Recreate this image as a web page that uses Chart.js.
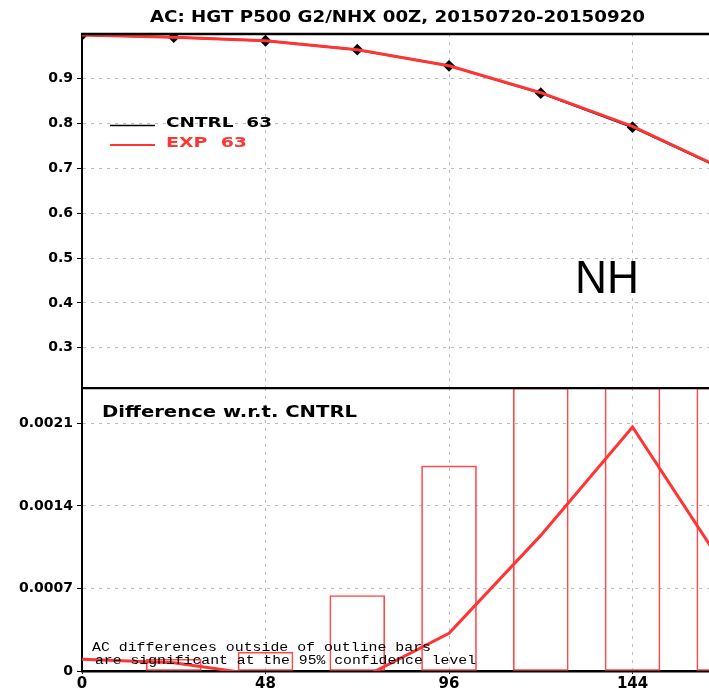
<!DOCTYPE html>
<html>
<head>
<meta charset="utf-8">
<script src="https://cdn.jsdelivr.net/npm/chart.js@4/dist/chart.umd.min.js"></script>
<style>
  body { margin: 0; background: #fff; }
  #wrap { position: relative; width: 709px; height: 691px; overflow: hidden; }
  canvas { position: absolute; left: 0; }
</style>
</head>
<body>
<div id="wrap">
  <canvas id="topChart" width="709" height="389" style="top:0px"></canvas>
  <canvas id="bottomChart" width="709" height="304" style="top:387px"></canvas>
</div>
<script>
// lead times (hours)
const leadHours = [0, 24, 48, 72, 96, 120, 144, 168];

// anomaly correlation
const cntrlAC = [0.998, 0.993, 0.985, 0.965, 0.929, 0.868, 0.792, 0.697];
const expAC = [0.998, 0.993, 0.985, 0.965, 0.929, 0.869, 0.794, 0.698];

// EXP - CNTRL difference and significance bars
const acDiff = [0.0001, 0.00007, -0.00004, -0.00008, 0.00032, 0.00115, 0.00207, 0.00088];
const sigBars = [0, 0.0001, 0.00016, 0.00064, 0.00174, 0.0024, 0.0024, 0.0024];

// tick values
const xTicks = [0, 48, 96, 144];
const topYTicks = [0.3, 0.4, 0.5, 0.6, 0.7, 0.8, 0.9];
const bottomYTicks = [0, 0.0007, 0.0014, 0.0021];

const RED = "#ff3535";
const GRID = "#bdbdbd";
const tickFont = { family: "DejaVu Sans", weight: "bold", size: 14 };

function points(ys) {
  return leadHours.map((h, i) => ({ x: h, y: ys[i] }));
}

//--TEXT HELPER--------------------------------------------------------------------
function fitText(ctx, text, x, y, w, font, color) {
  ctx.save();
  ctx.font = font;
  ctx.fillStyle = color;
  ctx.textAlign = "left";
  ctx.textBaseline = "alphabetic";
  let m = ctx.measureText(text).width;
  ctx.translate(x, y);
  ctx.scale(w / m, 1);
  ctx.fillText(text, 0, 0);
  ctx.restore();
}

function fixY(scale) {
  scale.width = 82;
  scale.paddingTop = 0;
  scale.paddingBottom = 0;
}

//--TOP PANEL----------------------------------------------------------------------
const topDecor = {
  id: "topDecor",
  afterDraw(chart) {
    const ctx = chart.ctx;
    const a = chart.chartArea;
    ctx.save();
    ctx.strokeStyle = "#000";
    ctx.lineWidth = 2.5;
    ctx.beginPath();
    ctx.moveTo(a.left - 1, a.top);
    ctx.lineTo(a.right, a.top);
    ctx.stroke();

    // legend
    ctx.lineWidth = 1.5;
    ctx.beginPath();
    ctx.moveTo(110, 125.5);
    ctx.lineTo(155, 125.5);
    ctx.stroke();
    ctx.strokeStyle = RED;
    ctx.lineWidth = 2;
    ctx.beginPath();
    ctx.moveTo(110, 145);
    ctx.lineTo(155, 145);
    ctx.stroke();
    ctx.restore();

    fitText(ctx, "AC: HGT P500 G2/NHX 00Z, 20150720-20150920", 150, 22, 495, "bold 15px 'DejaVu Sans'", "#000");
    fitText(ctx, "CNTRL  63", 166, 127, 106, "bold 14px 'DejaVu Sans'", "#000");
    fitText(ctx, "EXP  63", 166, 147, 81, "bold 14px 'DejaVu Sans'", RED);
    fitText(ctx, "NH", 575, 293, 64, "46px 'Liberation Sans'", "#000");
  }
};

new Chart(document.getElementById("topChart"), {
  type: "line",
  data: {
    datasets: [
      {
        label: "EXP",
        data: points(expAC),
        borderColor: RED,
        borderWidth: 3,
        pointRadius: 0,
        tension: 0,
        order: 0,
      },
      {
        label: "CNTRL",
        data: points(cntrlAC),
        borderColor: "#000",
        borderWidth: 2,
        pointRadius: 4.5,
        pointStyle: "rectRot",
        pointBackgroundColor: "#000",
        pointBorderColor: "#000",
        tension: 0,
        order: 1,
      },
    ],
  },
  options: {
    responsive: false,
    devicePixelRatio: 1,
    animation: false,
    layout: { autoPadding: false, padding: { top: 34, bottom: 1, left: 0, right: 0 } },
    plugins: { legend: { display: false }, tooltip: { enabled: false } },
    scales: {
      x: {
        type: "linear",
        min: 0,
        max: 164,
        afterBuildTicks: (s) => { s.ticks = xTicks.map((v) => ({ value: v })); },
        afterFit: (s) => { s.height = 0; s.paddingLeft = 0; s.paddingRight = 0; },
        ticks: { display: false },
        grid: { color: GRID, lineWidth: 1, drawTicks: false },
        border: { display: false, dash: [3, 5] },
      },
      y: {
        min: 0.21,
        max: 1.0,
        afterBuildTicks: (s) => { s.ticks = topYTicks.map((v) => ({ value: v })); },
        afterFit: fixY,
        ticks: { color: "#000", font: tickFont, padding: 4, callback: (v) => String(v) },
        grid: { color: GRID, lineWidth: 1, tickLength: 5, tickColor: "#000" },
        border: { display: true, color: "#000", width: 2, dash: [3, 5] },
      },
    },
  },
  plugins: [topDecor],
});

//--BOTTOM PANEL-------------------------------------------------------------------
const bottomDecor = {
  id: "bottomDecor",
  afterDraw(chart) {
    const ctx = chart.ctx;
    const a = chart.chartArea;
    ctx.save();
    ctx.strokeStyle = "#000";
    ctx.lineWidth = 2.5;
    ctx.beginPath();
    ctx.moveTo(a.left - 1, a.top);
    ctx.lineTo(a.right, a.top);
    ctx.stroke();
    ctx.restore();

    fitText(ctx, "Difference w.r.t. CNTRL", 102, 30, 255, "bold 15px 'DejaVu Sans'", "#000");
    fitText(ctx, "AC differences outside of outline bars", 92, 264, 339, "13px 'Liberation Mono'", "#000");
    fitText(ctx, "are significant at the 95% confidence level", 95, 277, 381, "13px 'Liberation Mono'", "#000");
  }
};

new Chart(document.getElementById("bottomChart"), {
  type: "bar",
  data: {
    datasets: [
      {
        type: "line",
        label: "EXP - CNTRL",
        data: points(acDiff),
        borderColor: RED,
        borderWidth: 3,
        pointRadius: 0,
        tension: 0,
        clip: 0,
        order: 0,
      },
      {
        type: "bar",
        label: "95% interval",
        data: points(sigBars),
        backgroundColor: "rgba(0,0,0,0)",
        borderColor: "#ff4a4a",
        borderWidth: 1,
        borderSkipped: false,
        barThickness: 55,
        clip: 0,
        order: 1,
      },
    ],
  },
  options: {
    responsive: false,
    devicePixelRatio: 1,
    animation: false,
    layout: { autoPadding: false, padding: { top: 1, bottom: 0, left: 0, right: 0 } },
    plugins: { legend: { display: false }, tooltip: { enabled: false } },
    scales: {
      x: {
        type: "linear",
        min: 0,
        max: 164,
        offset: false,
        afterBuildTicks: (s) => { s.ticks = xTicks.map((v) => ({ value: v })); },
        afterFit: (s) => { s.height = 20; s.paddingLeft = 0; s.paddingRight = 0; },
        ticks: { color: "#000", font: { family: "DejaVu Sans", weight: "bold", size: 15 }, padding: 1, maxRotation: 0, callback: (v) => String(v) },
        grid: { color: GRID, lineWidth: 1, tickLength: 3, tickColor: "#000", offset: false },
        border: { display: true, color: "#000", width: 2.5, dash: [3, 5] },
      },
      y: {
        min: 0,
        max: 0.0024,
        afterBuildTicks: (s) => { s.ticks = bottomYTicks.map((v) => ({ value: v })); },
        afterFit: fixY,
        ticks: { color: "#000", font: tickFont, padding: 4, callback: (v) => String(v) },
        grid: { color: GRID, lineWidth: 1, tickLength: 5, tickColor: "#000" },
        border: { display: true, color: "#000", width: 2, dash: [3, 5] },
      },
    },
  },
  plugins: [bottomDecor],
});
</script>
</body>
</html>
